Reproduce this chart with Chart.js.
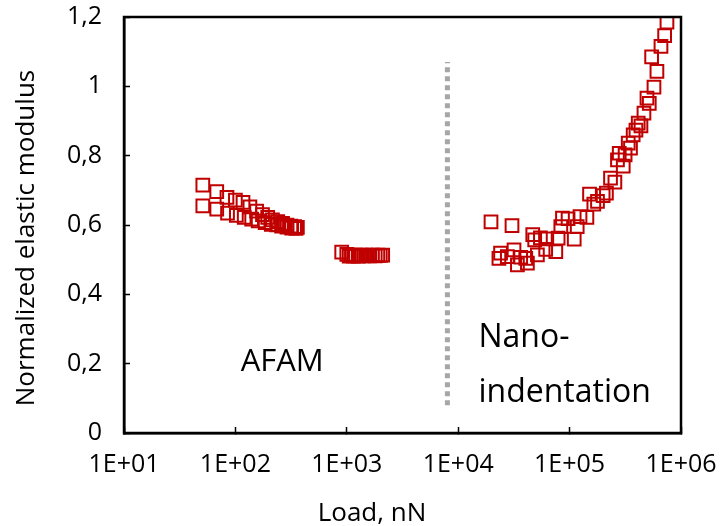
<!DOCTYPE html>
<html>
<head>
<meta charset="utf-8">
<script src="https://cdn.jsdelivr.net/npm/chart.js@4.4.0/dist/chart.umd.min.js"></script>
<style>
  html, body { margin: 0; padding: 0; background: #fff; }
  #wrap { width: 723px; height: 526px; }
</style>
</head>
<body>
<div id="wrap"><canvas id="chart"></canvas></div>
<script>
// AFAM, upper row (load in nN, normalized modulus)
const afamLoadA = [51, 68, 84, 100, 117, 135, 155, 175, 195, 215, 240, 265, 290, 315, 340, 360];
const afamModA = [0.715, 0.696, 0.680, 0.672, 0.665, 0.652, 0.640, 0.630, 0.622, 0.615, 0.610, 0.605, 0.600, 0.597, 0.595, 0.593];
// AFAM, lower row
const afamLoadB = [51, 68, 85, 102, 120, 140, 160, 185, 210, 235, 260, 290, 320, 350];
const afamModB = [0.655, 0.646, 0.634, 0.628, 0.622, 0.617, 0.612, 0.607, 0.602, 0.600, 0.597, 0.594, 0.591, 0.590];
// AFAM, high load cluster
const afamLoadC = [900, 1000, 1050, 1100, 1150, 1200, 1270, 1350, 1420, 1500, 1600, 1700, 1800, 1900, 2000, 2100];
const afamModC = [0.522, 0.515, 0.510, 0.513, 0.510, 0.513, 0.510, 0.513, 0.511, 0.513, 0.511, 0.513, 0.511, 0.513, 0.512, 0.513];
// Nanoindentation
const nanoLoad = [19700, 30400, 23200, 24000, 27600, 31700, 34000, 36400, 40400, 41800, 46700, 48600, 51400, 54700,
  61000, 62400, 75200, 78900, 83400, 86300, 96900, 110000, 117000, 124000, 143000, 151000, 165000, 178000, 200000,
  214000, 233000, 255000, 269000, 279000, 303000, 315000, 336000, 352000, 372000, 394000, 413000, 437000, 465000,
  495000, 519000, 545000, 572000, 608000, 661000, 713000, 748000];
const nanoMod = [0.609, 0.598, 0.504, 0.519, 0.509, 0.528, 0.485, 0.507, 0.504, 0.490, 0.572, 0.557, 0.514, 0.563,
  0.530, 0.560, 0.523, 0.562, 0.595, 0.620, 0.618, 0.559, 0.595, 0.624, 0.622, 0.689, 0.660, 0.668, 0.685,
  0.692, 0.735, 0.724, 0.788, 0.807, 0.770, 0.802, 0.836, 0.822, 0.860, 0.874, 0.894, 0.886, 0.923,
  0.966, 0.951, 1.085, 0.998, 1.043, 1.115, 1.146, 1.185];
// dotted divider between the two methods
const dividerLoad = [8000, 8000];
const dividerMod = [0.08, 1.07];

const xTicks = [1e1, 1e2, 1e3, 1e4, 1e5, 1e6];
const xTickLabels = ['1E+01', '1E+02', '1E+03', '1E+04', '1E+05', '1E+06'];
const yTicks = [0, 0.2, 0.4, 0.6, 0.8, 1, 1.2];
const yTickLabels = ['0', '0,2', '0,4', '0,6', '0,8', '1', '1,2'];

const FONT = "'Open Sans', sans-serif";
const RED = '#c00000';

function pts(xs, ys) {
    return xs.map((x, i) => ({ x: x, y: ys[i] }));
}

function markerSet(xs, ys) {
    return {
        data: pts(xs, ys),
        showLine: false,
        pointStyle: 'rect',
        pointRadius: 9,
        pointBorderWidth: 2,
        pointBorderColor: RED,
        pointBackgroundColor: 'rgba(0,0,0,0)'
    };
}

function noPad(s) {
    s.paddingTop = 0;
    s.paddingBottom = 0;
    s.paddingLeft = 0;
    s.paddingRight = 0;
}

// frame, axis titles and the in-plot notes
const extras = {
    id: 'extras',
    afterDatasetsDraw(chart) {
        const ctx = chart.ctx;
        const a = chart.chartArea;
        const xs = chart.scales.x, ys = chart.scales.y;
        ctx.save();
        ctx.strokeStyle = '#000';
        ctx.lineWidth = 2.5;
        ctx.strokeRect(a.left, a.top, a.right - a.left, a.bottom - a.top);

        ctx.fillStyle = '#000';
        ctx.font = '31px ' + FONT;
        ctx.textAlign = 'center';
        ctx.textBaseline = 'middle';
        ctx.fillText('AFAM', xs.getPixelForValue(263), ys.getPixelForValue(0.205));
        ctx.font = '32px ' + FONT;
        ctx.textAlign = 'left';
        ctx.textBaseline = 'alphabetic';
        ctx.fillText('Nano-', xs.getPixelForValue(15200), ys.getPixelForValue(0.248));
        ctx.fillText('indentation', xs.getPixelForValue(15200), ys.getPixelForValue(0.089));

        ctx.font = '26px ' + FONT;
        ctx.textAlign = 'center';
        ctx.fillText('Load, nN', 372, 521);
        ctx.translate(27, 238);
        ctx.rotate(-Math.PI / 2);
        ctx.textBaseline = 'middle';
        ctx.fillText('Normalized elastic modulus', 0, 0);
        ctx.restore();
    }
};

new Chart(document.getElementById('chart'), {
    type: 'scatter',
    data: {
        datasets: [
            markerSet(afamLoadA, afamModA),
            markerSet(afamLoadB, afamModB),
            markerSet(afamLoadC, afamModC),
            markerSet(nanoLoad, nanoMod),
            {
                data: pts(dividerLoad, dividerMod),
                showLine: true,
                borderColor: '#a6a6a6',
                borderWidth: 5,
                borderDash: [5, 4],
                pointRadius: 0
            }
        ]
    },
    options: {
        responsive: true,
        maintainAspectRatio: false,
        animation: false,
        layout: { padding: { top: 17, right: 42, left: 0, bottom: 0 } },
        scales: {
            x: {
                type: 'logarithmic',
                min: 10,
                max: 1e6,
                afterBuildTicks: (s) => { s.ticks = xTicks.map(v => ({ value: v })); },
                afterFit: (s) => { s.height = 93; noPad(s); },
                grid: { drawOnChartArea: false, tickLength: -6, tickWidth: 1.5, color: '#000' },
                border: { color: '#000', width: 2.5 },
                ticks: {
                    color: '#000',
                    font: { family: FONT, size: 25 },
                    padding: 23,
                    maxRotation: 0,
                    autoSkip: false,
                    callback: (v) => xTickLabels[xTicks.indexOf(v)]
                }
            },
            y: {
                min: 0,
                max: 1.2,
                afterBuildTicks: (s) => { s.ticks = yTicks.map(v => ({ value: v })); },
                afterFit: (s) => { s.width = 124; noPad(s); },
                grid: { drawOnChartArea: false, tickLength: -6, tickWidth: 1.5, color: '#000' },
                border: { color: '#000', width: 2.5 },
                ticks: {
                    color: '#000',
                    font: { family: FONT, size: 25 },
                    padding: 28,
                    callback: (v) => yTickLabels[yTicks.indexOf(v)]
                }
            }
        },
        plugins: {
            legend: { display: false },
            tooltip: { enabled: false }
        }
    },
    plugins: [extras]
});
</script>
</body>
</html>
